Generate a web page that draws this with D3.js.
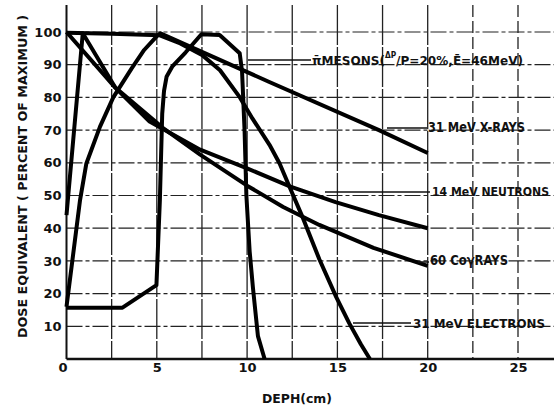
<html>
<head>
<script src="https://d3js.org/d3.v7.min.js"></script>
<style>
  body { margin: 0; background: #fff; }
  text { font-family: "DejaVu Sans Condensed", "DejaVu Sans", sans-serif; font-weight: bold; fill: #111; }
</style>
</head>
<body>
<svg id="chart" width="554" height="410"></svg>
<script>
// depth (cm), dose equivalent (% of max)
const mesons = [[0, 15.7], [3.1, 15.7], [4.98, 22.6], [5.17, 48.6], [5.3, 75], [5.4, 82], [5.54, 86.3],
  [5.85, 89.4], [6.6, 93.8], [7.47, 99.3], [8.48, 99.1], [9.59, 93.5], [9.72, 88], [9.86, 70],
  [9.96, 50], [10.14, 33], [10.32, 22], [10.6, 7], [10.97, 0]];
const xrays = [[0, 16], [0.75, 48.6], [1.1, 59.8], [1.85, 71], [2.59, 80], [3.6, 88.8], [4.3, 94.5],
  [4.98, 98.6], [5.2, 99.6], [11.2, 84.8], [17.3, 70], [20, 63]];
const neutrons = [[0, 100], [2.7, 83], [4.6, 72.6], [7.4, 64], [10, 58.3], [12.4, 52.7],
  [14.9, 48], [17.3, 44], [20, 40]];
const cobalt = [[0, 44], [0.9, 99.6], [2.7, 83], [5.35, 70.6], [7.4, 62.5], [10, 53], [12, 46.5],
  [14, 41], [17, 34], [20, 28.5]];
const electrons = [[0, 99.8], [2.5, 99.5], [5.17, 99], [6.3, 96.5], [7.5, 93], [8.5, 88.3], [9.6, 80],
  [10.3, 73.5], [11.24, 65.5], [11.8, 59.8], [12.4, 52], [13.1, 43], [14, 30.5], [14.93, 19],
  [15.66, 10.9], [16.3, 4.5], [16.8, 0]];

const xTicks = [0, 5, 10, 15, 20, 25];
const yTicks = [10, 20, 30, 40, 50, 60, 70, 80, 90, 100];
const xGrid = [2.5, 5, 7.5, 10, 12.5, 15, 17.5, 20, 22.5, 25];
const yGrid = [10, 20, 30, 40, 50, 60, 70, 80, 90, 100];

const svg = d3.select("#chart");
const width = +svg.attr("width");
const plotTop = 5;

const x = d3.scaleLinear().domain([0, 25]).range([66.5, 518]);
const y = d3.scaleLinear().domain([0, 100]).range([359, 32]);

// grid
svg.append("g").selectAll("line").data(yGrid).join("line")
  .attr("x1", x(0)).attr("x2", width)
  .attr("y1", d => y(d)).attr("y2", d => y(d))
  .style("stroke", "#222").style("stroke-width", 1.2)
  .style("stroke-dasharray", "16,3,4,3");

svg.append("g").selectAll("line").data(xGrid).join("line")
  .attr("x1", d => x(d)).attr("x2", d => x(d))
  .attr("y1", plotTop).attr("y2", y(0))
  .style("stroke", "#222").style("stroke-width", 1.3)
  .style("stroke-dasharray", d => d > 20 ? "12,4" : "40,2");

// axes frame
svg.append("line").attr("x1", x(0)).attr("x2", x(0)).attr("y1", plotTop).attr("y2", y(0))
  .style("stroke", "#111").style("stroke-width", 2);
svg.append("line").attr("x1", x(0)).attr("x2", width).attr("y1", y(0)).attr("y2", y(0))
  .style("stroke", "#111").style("stroke-width", 2.5);

const yAxis = svg.append("g").attr("transform", `translate(${x(0)},0)`)
  .call(d3.axisLeft(y).tickValues(yTicks).tickSize(0).tickPadding(5));
const xAxis = svg.append("g").attr("transform", `translate(0,${y(0)})`)
  .call(d3.axisBottom(x).tickValues(xTicks).tickSize(0).tickPadding(4));
[yAxis, xAxis].forEach(a => {
  a.select(".domain").remove();
  a.selectAll("text").style("font-family", "DejaVu Sans").style("font-weight", "bold")
    .style("font-size", "13px").style("fill", "#111");
});
xAxis.selectAll(".tick").filter(d => d === 0).select("text").attr("x", -4);

// curves
const line = d3.line().x(d => x(d[0])).y(d => y(d[1]));
[mesons, xrays, neutrons, cobalt, electrons].forEach(s => {
  svg.append("path").datum(s).attr("d", line)
    .style("fill", "none").style("stroke", "#000")
    .style("stroke-width", 4).style("stroke-linejoin", "round");
});

// leader lines
const leaders = [[248, 311, 60], [387, 427, 128], [325, 430, 192], [418, 429, 262], [353, 411, 323]];
svg.append("g").selectAll("line").data(leaders).join("line")
  .attr("x1", d => d[0]).attr("x2", d => d[1]).attr("y1", d => d[2]).attr("y2", d => d[2])
  .style("stroke", "#111").style("stroke-width", 1.5);

// labels
function label(txt, x0, x1, base, size) {
  return svg.append("text").attr("x", x0).attr("y", base)
    .attr("textLength", x1 - x0).attr("lengthAdjust", "spacingAndGlyphs")
    .style("font-size", size + "px").text(txt);
}
const meson = svg.append("text").attr("x", 312).attr("y", 65)
  .attr("textLength", 211).attr("lengthAdjust", "spacingAndGlyphs")
  .style("font-size", "13px");
meson.append("tspan").text("\u03C0\u0304MESONS(");
meson.append("tspan").attr("dy", -7).style("font-size", "8px").text("\u0394P");
meson.append("tspan").attr("dy", 7).text("/P=20%,\u0112=46MeV)");
label("31 MeV X-RAYS", 428, 525, 132, 13.5);
label("14 MeV NEUTRONS", 432, 549, 196, 12.5);
label("60 Co\u03B3RAYS", 430, 508, 265, 13.5);
label("31 MeV ELECTRONS", 413, 545, 328, 13);

// axis titles
svg.append("text").attr("x", 262).attr("y", 403)
  .attr("textLength", 70).attr("lengthAdjust", "spacingAndGlyphs")
  .style("font-size", "13px").text("DEPH(cm)");
svg.append("text").attr("transform", "translate(27,176.5) rotate(-90)")
  .attr("text-anchor", "middle")
  .attr("textLength", 323).attr("lengthAdjust", "spacingAndGlyphs")
  .style("font-size", "13px").text("DOSE  EQUIVALENT  ( PERCENT  OF  MAXIMUM )");
</script>
</body>
</html>
